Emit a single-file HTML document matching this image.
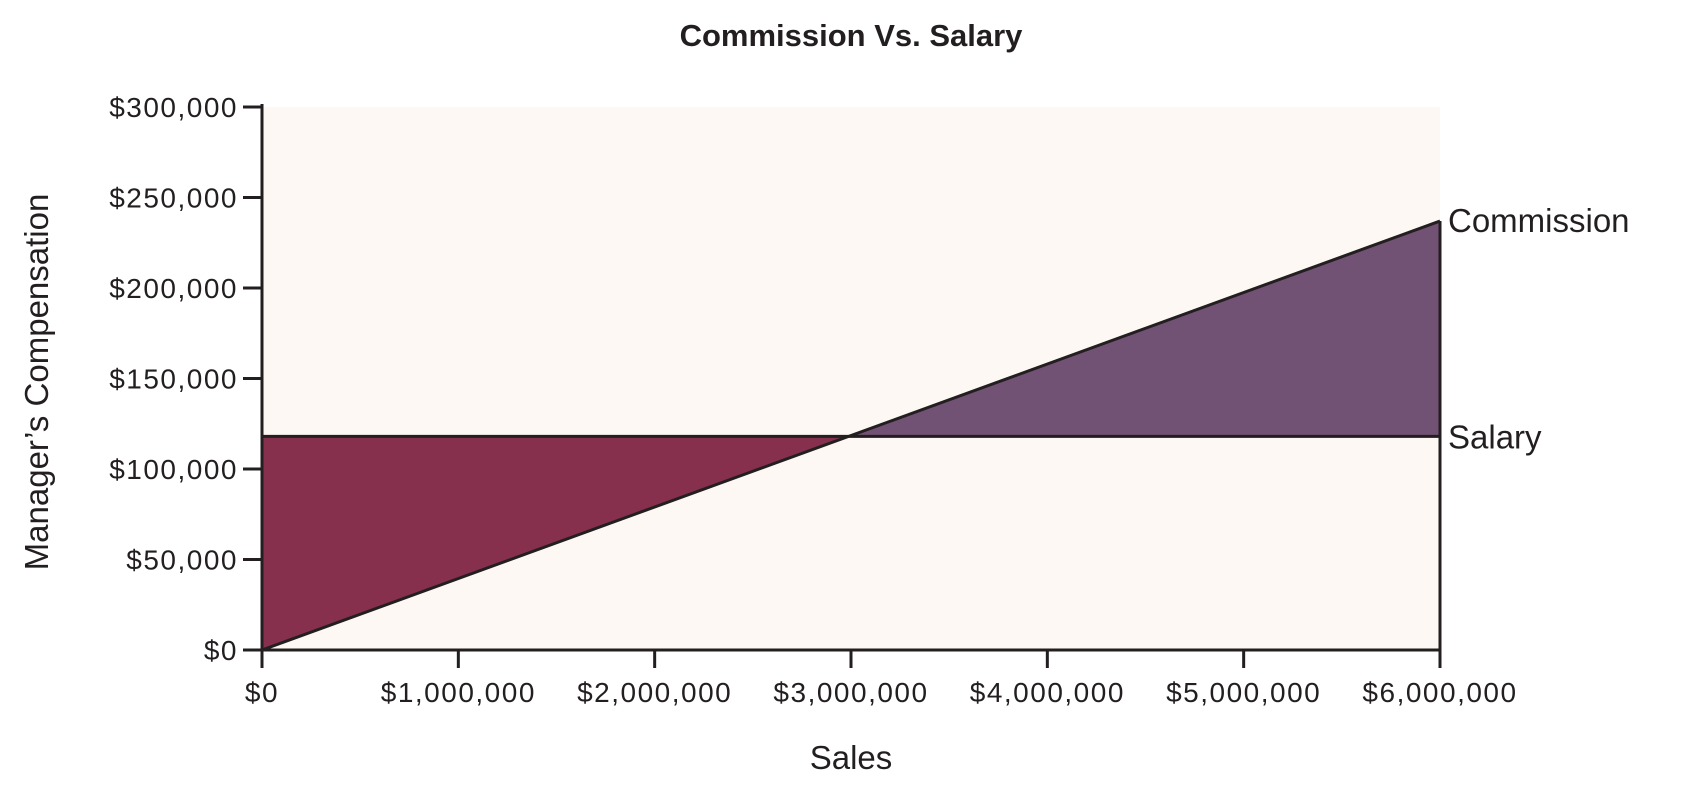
<!DOCTYPE html>
<html><head><meta charset="utf-8"><style>
body{margin:0;background:#fff}
svg{display:block;font-family:"Liberation Sans",sans-serif;fill:#231f20}
</style></head><body>
<svg width="1694" height="789">
<g id="root"></g>
</svg>
<script>
const xTicks=[0,1000000,2000000,3000000,4000000,5000000,6000000];
const xTickLabels=["$0","$1,000,000","$2,000,000","$3,000,000","$4,000,000","$5,000,000","$6,000,000"];
const yTicks=[0,50000,100000,150000,200000,250000,300000];
const yTickLabels=["$0","$50,000","$100,000","$150,000","$200,000","$250,000","$300,000"];
const salesX=[0,6000000];
const commission=[0,237000];
const salary=[118000,118000];

const L=262,R=1440,T=107,B=650;
const sx=v=>L+(v/6000000)*(R-L);
const sy=v=>B-(v/300000)*(B-T);
const NS="http://www.w3.org/2000/svg";
const root=document.getElementById('root');
function mk(tag,attrs,parent){const e=document.createElementNS(NS,tag);for(const k in attrs)e.setAttribute(k,attrs[k]);(parent||root).appendChild(e);return e;}

const bg=mk('rect',{x:L,y:T,width:R-L,height:B-T,fill:'#fdf8f3'});



// crossing point
const x0=salesX[0],x1=salesX[1];
const slope=(commission[1]-commission[0])/(x1-x0);
const xc=x0+(salary[0]-commission[0])/slope;
const lossArea=mk('polygon',{points:`${sx(x0)},${sy(salary[0])} ${sx(xc)},${sy(salary[0])} ${sx(x0)},${sy(commission[0])}`,fill:'#86304e'});


const gainArea=mk('polygon',{points:`${sx(xc)},${sy(salary[1])} ${sx(x1)},${sy(commission[1])} ${sx(x1)},${sy(salary[1])}`,fill:'#725274'});



const sal=mk('line',{x1:sx(x0),y1:sy(salary[0]),x2:sx(x1),y2:sy(salary[1]),stroke:'#231f20','stroke-width':3});


const com=mk('line',{x1:sx(x0),y1:sy(commission[0]),x2:sx(x1),y2:sy(commission[1]),stroke:'#231f20','stroke-width':3});



const ya=mk('line',{x1:L,y1:T-3,x2:L,y2:B+18,stroke:'#231f20','stroke-width':3});


const xa=mk('line',{x1:L-18,y1:B,x2:R,y2:B,stroke:'#231f20','stroke-width':3});


const ra=mk('line',{x1:R,y1:sy(commission[1]),x2:R,y2:B+18,stroke:'#231f20','stroke-width':3});



yTicks.forEach((v,i)=>{
  const t=mk('line',{x1:L-19,y1:sy(v),x2:L,y2:sy(v),stroke:'#231f20','stroke-width':3});
  
  
  const tx=mk('text',{x:L-24,y:sy(v)+10,'text-anchor':'end','font-size':28,'letter-spacing':1.5});
  tx.textContent=yTickLabels[i];
  
  
});
xTicks.forEach((v,i)=>{
  const t=mk('line',{x1:sx(v),y1:B,x2:sx(v),y2:B+18,stroke:'#231f20','stroke-width':3});
  
  
  const tx=mk('text',{x:sx(v),y:702,'text-anchor':'middle','font-size':28,'letter-spacing':1.5});
  tx.textContent=xTickLabels[i];
  
  
});

const lc=mk('text',{x:R+8,y:sy(commission[1])+11,'font-size':33});
lc.textContent='Commission';


const ls=mk('text',{x:R+8,y:sy(salary[1])+12,'font-size':33});
ls.textContent='Salary';



const title=mk('text',{x:851,y:46,'text-anchor':'middle','font-size':31,'font-weight':'bold'});
title.textContent='Commission Vs. Salary';


const xt=mk('text',{x:851,y:769,'text-anchor':'middle','font-size':33});
xt.textContent='Sales';


const yt=mk('text',{x:0,y:0,'text-anchor':'middle','font-size':33,transform:'translate(48,382) rotate(-90)'});
yt.textContent='Manager’s Compensation';


</script>
</body></html>
